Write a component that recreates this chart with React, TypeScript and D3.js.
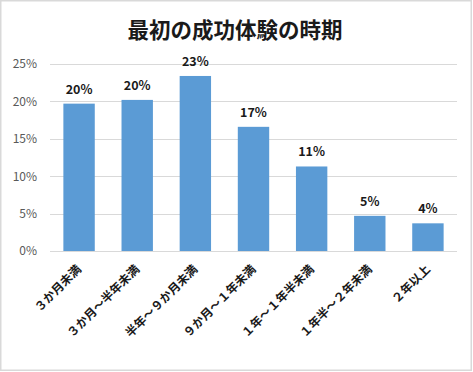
import React from "react";
import * as d3 from "d3";

const title = "最初の成功体験の時期";
const categories = [
  "３か月未満",
  "３か月～半年未満",
  "半年～９か月未満",
  "９か月～１年未満",
  "１年～１年半未満",
  "１年半～２年未満",
  "２年以上",
];
const values = [0.197, 0.202, 0.234, 0.166, 0.113, 0.047, 0.037];
const yTicks = [0, 0.05, 0.1, 0.15, 0.2, 0.25];

const W = 473;
const H = 372;
const FONT = "'Noto Sans CJK JP', 'Noto Sans', sans-serif";

export default function App() {
  const x = d3
    .scaleBand<string>()
    .domain(categories)
    .range([50, 457])
    .paddingInner(0.46)
    .paddingOuter(0.23);
  const y = d3.scaleLinear().domain([0, 0.25]).range([251, 64]);
  const pct = d3.format(".0%");

  return (
    <svg
      width={W}
      height={H}
      style={{ position: "absolute", left: 0, top: 0, display: "block", background: "#fff" }}
      fontFamily={FONT}
    >
      <rect x={0.75} y={0.75} width={W - 2.5} height={H - 2.5} fill="#fff" stroke="#d9d9d9" strokeWidth={1.5} />
      <text x={235} y={38} textAnchor="middle" fontSize={21.5} fontWeight="bold" fill="#1a1a1a">
        {title}
      </text>
      {yTicks.map((t) => (
        <g key={t}>
          <line x1={50} x2={457} y1={Math.round(y(t)) + 0.5} y2={Math.round(y(t)) + 0.5} stroke="#d9d9d9" strokeWidth={1} />
          <text x={37} y={y(t)} dy="0.36em" textAnchor="end" fontSize={12} fill="#595959">
            {pct(t)}
          </text>
        </g>
      ))}
      {categories.map((c, i) => {
        const bx = x(c)!;
        const bw = x.bandwidth();
        const cx = bx + bw / 2;
        return (
          <g key={c}>
            <rect x={bx} y={y(values[i])} width={bw} height={y(0) - y(values[i])} fill="#5b9bd5" />
            <text x={cx} y={y(values[i]) - 10} textAnchor="middle" fontSize={12.5} fontWeight="bold" fill="#1a1a1a">
              {pct(values[i])}
            </text>
            <text
              transform={`translate(${cx + 3},${270}) rotate(-45)`}
              textAnchor="end"
              fontSize={12}
              fontWeight="bold"
              fill="#1a1a1a"
            >
              {c}
            </text>
          </g>
        );
      })}
    </svg>
  );
}
